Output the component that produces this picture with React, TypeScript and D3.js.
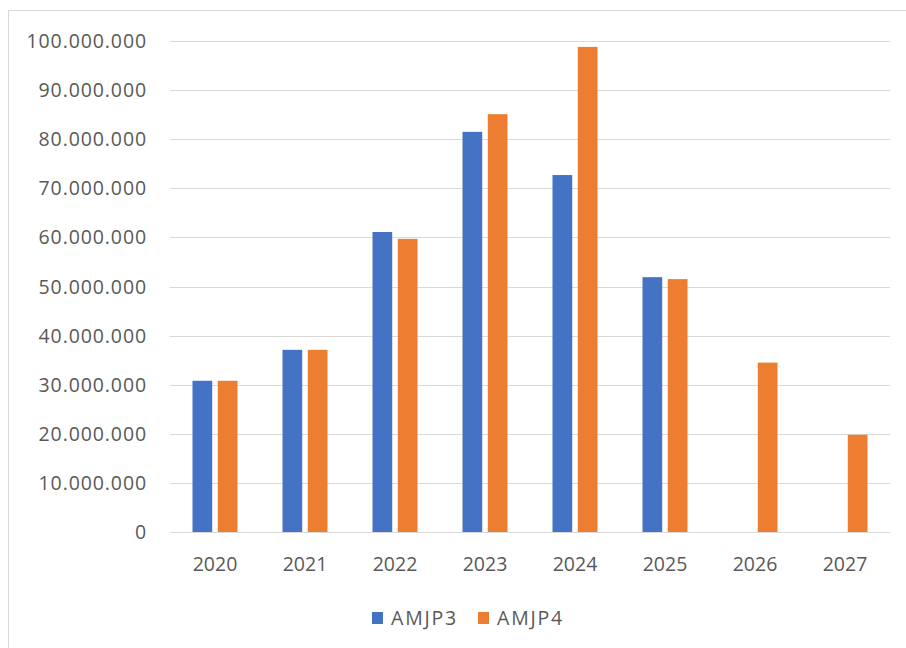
import React from "react";
import * as d3 from "d3";

const categories = ["2020", "2021", "2022", "2023", "2024", "2025", "2026", "2027"];
const seriesNames = ["AMJP3", "AMJP4"];
const amjp3: (number | null)[] = [30.8e6, 37.1e6, 61.1e6, 81.5e6, 72.7e6, 51.9e6, null, null];
const amjp4: (number | null)[] = [30.8e6, 37.1e6, 59.7e6, 85.1e6, 98.8e6, 51.5e6, 34.5e6, 19.8e6];
const yTicks = [0, 10e6, 20e6, 30e6, 40e6, 50e6, 60e6, 70e6, 80e6, 90e6, 100e6];
const colors = ["#4472C4", "#ED7D31"];

const W = 906;
const H = 648;
const plot = { left: 170, right: 890, top: 41, bottom: 532 };
const font = "'Open Sans', 'Noto Sans', sans-serif";
const fs = 19.5;

function fmt(v: number) {
  if (v === 0) return "0";
  return d3.format(",")(v).replace(/,/g, ".");
}

export default function App() {
  const x = d3.scaleBand<string>().domain(categories).range([plot.left, plot.right]).paddingInner(0).paddingOuter(0);
  const inner = d3.scaleBand<string>().domain(seriesNames).range([0, 45]).paddingInner(0.22);
  const y = d3.scaleLinear().domain([0, 100e6]).range([plot.bottom, plot.top]);
  const step = x.bandwidth();
  const series = [amjp3, amjp4];

  return (
    <svg width={W} height={H} style={{ position: "absolute", left: 0, top: 0, background: "#fff" }}>
      <rect x={8.5} y={10.5} width={W} height={H} fill="#fff" stroke="#d9d9d9" strokeWidth={1} />
      {yTicks.map((t) => (
        <g key={t}>
          <line x1={plot.left} x2={plot.right} y1={Math.round(y(t)) + 0.5} y2={Math.round(y(t)) + 0.5} stroke="#d9d9d9" strokeWidth={1} />
          <text x={147} y={y(t)} dy="0.36em" textAnchor="end" fontFamily={font} fontSize={fs} letterSpacing={0.9} fill="#595959">
            {fmt(t)}
          </text>
        </g>
      ))}
      {series.map((vals, si) =>
        vals.map((v, i) =>
          v == null ? null : (
            <rect
              key={si + "-" + i}
              x={(x(categories[i]) as number) + step / 4 + (inner(seriesNames[si]) as number)}
              y={y(v)}
              width={inner.bandwidth()}
              height={y(0) - y(v)}
              fill={colors[si]}
            />
          )
        )
      )}
      {categories.map((c) => (
        <text key={c} x={(x(c) as number) + step / 2} y={564} dy="0.36em" textAnchor="middle" fontFamily={font} fontSize={fs} fill="#595959">
          {c}
        </text>
      ))}
      {seriesNames.map((s, i) => {
        const lx = [372, 478][i];
        return (
          <g key={s}>
            <rect x={lx} y={612} width={11} height={12} fill={colors[i]} />
            <text x={lx + 19} y={618} dy="0.36em" fontFamily={font} fontSize={fs} letterSpacing={1.8} fill="#595959">
              {s}
            </text>
          </g>
        );
      })}
    </svg>
  );
}
